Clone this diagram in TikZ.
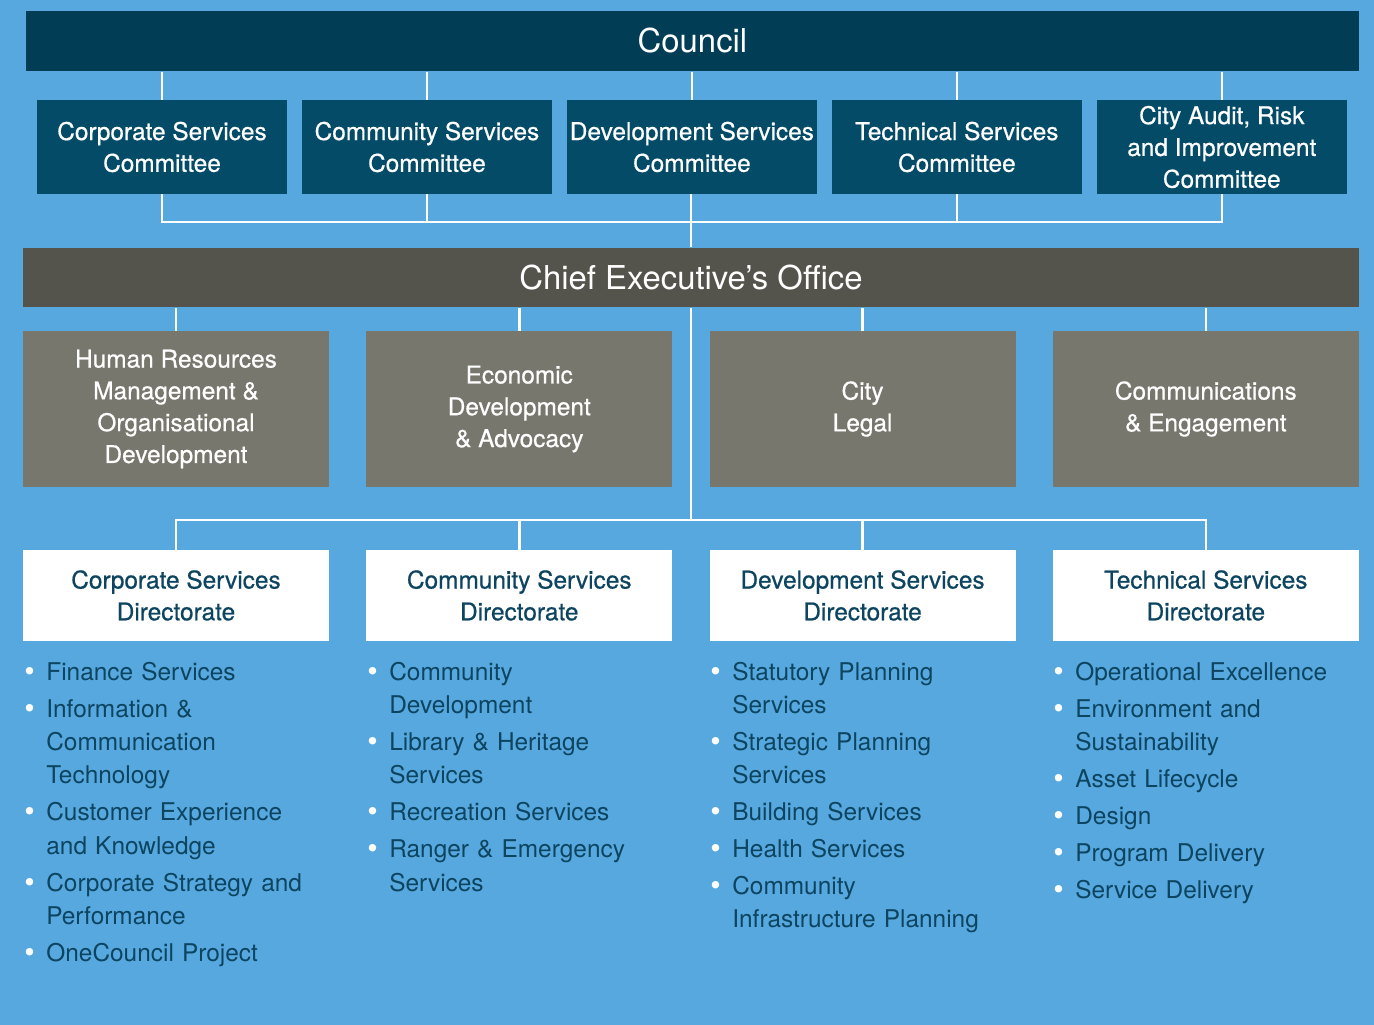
\documentclass[tikz,border=0pt]{standalone}
\usepackage{fontspec}
\setmainfont{TeX Gyre Heros}
\newfontfamily\mediumface[FakeBold=0.6]{TeX Gyre Heros}
\usepackage{tikz}
\definecolor{bgblue}{HTML}{56A8DF}
\definecolor{councilblue}{HTML}{023D56}
\definecolor{committeeblue}{HTML}{034B67}
\definecolor{ceogrey}{HTML}{55544C}
\definecolor{unitgrey}{HTML}{77776E}
\definecolor{darktext}{HTML}{0D4460}
\newcommand{\boxfont}{\mediumface\fontsize{13.9}{18.1}\selectfont}
\newcommand{\listfont}{\fontsize{13.9}{19}\selectfont\parskip=2pt}
\newcommand{\orgitem}[1]{\par\hangindent=0.44cm\hangafter=1\noindent\makebox[0.44cm][l]{\textcolor{white}{\fontsize{17}{19}\selectfont\raisebox{-0.6pt}{\textbullet}}}\strut#1\par}
\tikzstyle{council} = [rectangle, minimum width=26.66cm, minimum height=1.22cm, inner sep=0pt, fill=councilblue, text=white, font=\fontsize{18.7}{22}\selectfont]
\tikzstyle{committee} = [rectangle, minimum width=5cm, minimum height=1.88cm, inner sep=0pt, align=center, fill=committeeblue, text=white, font=\boxfont]
\tikzstyle{ceo} = [rectangle, minimum width=26.72cm, minimum height=1.2cm, inner sep=0pt, fill=ceogrey, text=white, font=\fontsize{18.7}{22}\selectfont]
\tikzstyle{unit} = [rectangle, minimum width=6.12cm, minimum height=3.12cm, inner sep=0pt, align=center, fill=unitgrey, text=white, font=\boxfont]
\tikzstyle{directorate} = [rectangle, minimum width=6.12cm, minimum height=1.82cm, inner sep=0pt, align=center, fill=white, text=darktext, font=\boxfont]
\tikzstyle{duties} = [anchor=north west, inner sep=0pt, text width=6.4cm, text=darktext, font=\listfont]
\tikzstyle{link} = [draw=white, line width=1.4pt]

\begin{document}
\begin{tikzpicture}[x=0.02cm, y=-0.02cm, node distance=5.3cm]
    \fill [bgblue] (0,0) rectangle (1374,1025);

    \node (council) [council] at (692.5,41) {Council};
    \node (csc) [committee] at (162,147) {Corporate Services\\Committee};
    \node (comsc) [committee, right of=csc] {Community Services\\Committee};
    \node (dsc) [committee, right of=comsc] {Development Services\\Committee};
    \node (tsc) [committee, right of=dsc] {Technical Services\\Committee};
    \node (audit) [committee, right of=tsc] {City Audit, Risk\\and Improvement\\Committee};

    \node (ceo) [ceo] at (691,277.5) {Chief Executive’s Office};
    \node (hr) [unit] at (176,409) {Human Resources\\Management \&\\Organisational\\Development};
    \node (econ) [unit, right of=hr, xshift=1.567cm] {Economic\\Development\\\& Advocacy};
    \node (legal) [unit, right of=econ, xshift=1.567cm] {City\\Legal};
    \node (comms) [unit, right of=legal, xshift=1.567cm] {Communications\\\& Engagement};

    \node (csd) [directorate, below of=hr, node distance=3.73cm] {Corporate Services\\Directorate};
    \node (comsd) [directorate, below of=econ, node distance=3.73cm] {Community Services\\Directorate};
    \node (dsd) [directorate, below of=legal, node distance=3.73cm] {Development Services\\Directorate};
    \node (tsd) [directorate, below of=comms, node distance=3.73cm] {Technical Services\\Directorate};

    \node (cslist) [duties] at (24,643) {\raggedright
        \orgitem{Finance Services}
        \orgitem{Information \&\newline Communication\newline Technology}
        \orgitem{Customer Experience\newline and Knowledge}
        \orgitem{Corporate Strategy and\newline Performance}
        \orgitem{OneCouncil Project}};
    \node (comslist) [duties] at (367,643) {\raggedright
        \orgitem{Community\newline Development}
        \orgitem{Library \& Heritage\newline Services}
        \orgitem{Recreation Services}
        \orgitem{Ranger \& Emergency\newline Services}};
    \node (dslist) [duties] at (710,643) {\raggedright
        \orgitem{Statutory Planning\newline Services}
        \orgitem{Strategic Planning\newline Services}
        \orgitem{Building Services}
        \orgitem{Health Services}
        \orgitem{Community\newline Infrastructure Planning}};
    \node (tslist) [duties] at (1053,643) {\raggedright
        \orgitem{Operational Excellence}
        \orgitem{Environment and\newline Sustainability}
        \orgitem{Asset Lifecycle}
        \orgitem{Design}
        \orgitem{Program Delivery}
        \orgitem{Service Delivery}};

    % council to committees
    \draw [link] (council.south -| csc) -- (csc);
    \draw [link] (council.south -| comsc) -- (comsc);
    \draw [link] (council.south -| dsc) -- (dsc);
    \draw [link] (council.south -| tsc) -- (tsc);
    \draw [link] (council.south -| audit) -- (audit);
    \coordinate (cbus) at (691,222);
    \draw [link] (csc) |- (cbus);
    \draw [link] (comsc) |- (cbus);
    \draw [link] (tsc) |- (cbus);
    \draw [link] (audit) |- (cbus);
    \draw [link] (dsc.south -| cbus) -- (ceo);

    % ceo to units and directorates
    \draw [link] (ceo.south -| hr) -- (hr);
    \draw [link] (ceo.south -| econ) -- (econ);
    \draw [link] (ceo.south -| legal) -- (legal);
    \draw [link] (ceo.south -| comms) -- (comms);
    \coordinate (dbus) at (691,520);
    \draw [link] (ceo) -- (dbus);
    \draw [link] (csd) |- (dbus);
    \draw [link] (comsd) |- (dbus);
    \draw [link] (dsd) |- (dbus);
    \draw [link] (tsd) |- (dbus);
\end{tikzpicture}
\end{document}
